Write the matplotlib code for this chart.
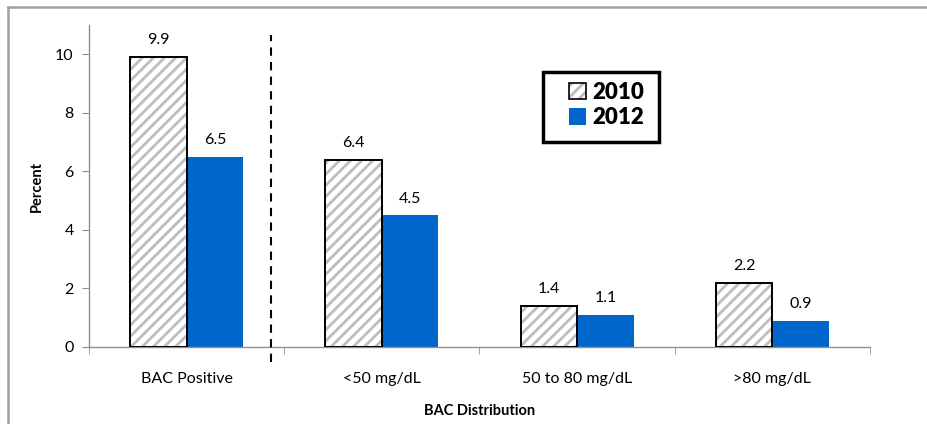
import matplotlib
matplotlib.use("Agg")
import matplotlib.pyplot as plt
from matplotlib.lines import Line2D
from matplotlib.patches import Patch, Rectangle
from matplotlib.legend_handler import HandlerTuple
import numpy as np

categories = ["BAC Positive", "<50 mg/dL", "50 to 80 mg/dL", ">80 mg/dL"]
vals_2010 = [9.9, 6.4, 1.4, 2.2]
vals_2012 = [6.5, 4.5, 1.1, 0.9]
series_names = ["2010", "2012"]

plt.rcParams['font.family'] = ['Lato', 'DejaVu Sans']
plt.rcParams['hatch.linewidth'] = 2.0

W, H = 928, 424
fig = plt.figure(figsize=(W/100, H/100), dpi=100)
ax = fig.add_axes([89/W, (H-347)/H, (870-89)/W, (347-25)/H])

x = np.arange(len(categories))
bw = 0.29
hatch_col = '#bdbdbd'
# hatched fill (grey stripes) then black outline on top
ax.bar(x - bw/2, vals_2010, bw, color='white', edgecolor=hatch_col, linewidth=0,
       hatch='///', zorder=2)
b1 = ax.bar(x - bw/2, vals_2010, bw, fill=False, edgecolor='black', linewidth=1.4, zorder=3)
b2 = ax.bar(x + bw/2, vals_2012, bw, color='#0066CC', edgecolor='none', zorder=2)

for bars, vals in ((b1, vals_2010), (b2, vals_2012)):
    for r, v in zip(bars, vals):
        ax.annotate(f"{v:.1f}", (r.get_x() + r.get_width()/2, v), xytext=(0, 7),
                    textcoords='offset points', ha='center', va='bottom', fontsize=11.5)

ax.set_xlim(-0.5, len(categories) - 0.5)
ax.set_ylim(0, 11)
ax.set_yticks([0, 2, 4, 6, 8, 10])
ax.tick_params(axis='y', labelsize=11.5, length=5, color='#909090', pad=6)
ax.set_xticks(x)
ax.set_xticklabels(categories, fontsize=11.5)
ax.tick_params(axis='x', length=0, pad=18)
ax.set_xticks(np.arange(-0.5, len(categories)), minor=True)
ax.tick_params(axis='x', which='minor', length=5, color='#909090')

for s in ('top', 'right'):
    ax.spines[s].set_visible(False)
for s in ('left', 'bottom'):
    ax.spines[s].set_color('#909090')
    ax.spines[s].set_linewidth(1.0)

ax.plot([0.432, 0.432], [-0.52, 10.65], ls=(0, (4, 3)), color='black', lw=1.5,
        clip_on=False, zorder=3)

ax.set_ylabel("Percent", fontsize=10.5, fontweight='bold')
ax.yaxis.set_label_coords((37 - 89)/(870-89), 0.5)
ax.set_xlabel("BAC Distribution", fontsize=10.5, fontweight='bold')
ax.xaxis.set_label_coords(0.5, -(411 - 347)/(347-25))
ax.xaxis.label.set_va('center')
ax.yaxis.label.set_va('center')

h2010 = (Patch(facecolor='white', edgecolor=hatch_col, hatch='///', linewidth=0),
         Patch(fill=False, edgecolor='black', linewidth=1.2))
h2012 = Patch(facecolor='#0066CC', edgecolor='none')
leg = fig.legend([h2010, h2012], series_names, loc='center left',
                 bbox_to_anchor=(569/W, (H-105)/H),
                 handler_map={tuple: HandlerTuple(ndivide=1, pad=0)},
                 fontsize=16, frameon=False,
                 handlelength=0.75, handleheight=0.75,
                 handletextpad=0.3, borderpad=0, borderaxespad=0, labelspacing=0.2)
for t in leg.get_texts():
    t.set_fontweight('heavy')
fig.add_artist(Rectangle((543/W, (H-142)/H), (659-543)/W, (142-72)/H, fill=False,
                         edgecolor='black', linewidth=2.5, transform=fig.transFigure))

# outer chart frame (top and left visible)
fig.add_artist(Line2D([8/W, 1], [(H-7)/H, (H-7)/H], color='#a0a0a0', lw=1.8,
                      transform=fig.transFigure))
fig.add_artist(Line2D([8/W, 8/W], [0, (H-7)/H], color='#a0a0a0', lw=1.8,
                      transform=fig.transFigure))

fig.savefig("out.png", dpi=100)
